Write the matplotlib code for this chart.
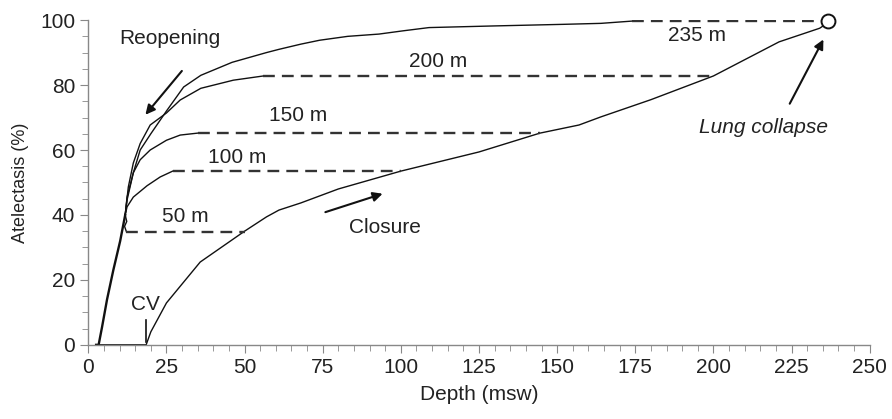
import matplotlib.pyplot as plt
from matplotlib.ticker import MultipleLocator

plt.rcParams['font.family'] = ['Liberation Sans', 'DejaVu Sans']

# Courbe de fermeture (compression)
closure_depth = [3, 18.5, 20, 25, 35.8, 50, 57, 61, 68, 80, 100, 125, 144.5, 157, 164, 180, 200, 221, 234, 236.3]
closure_atel = [0, 0, 4, 12.9, 25.5, 35, 39.4, 41.5, 43.7, 48, 53.5, 59.4, 65.2, 67.7, 70.2, 75.5, 82.8, 93.3, 97.5, 99]

# Descente commune des courbes de réouverture
common_depth = [11.8, 10.2, 8, 6, 4.4, 3.6, 3.3, 2.5]
common_atel = [40, 32, 23, 14, 5.5, 1.5, 0, 0]

# Réouverture depuis 235 m
r235_depth = [174, 164, 152, 129.5, 109, 100.7, 93, 83, 74, 68, 61, 57, 46, 36, 30.5, 25, 20, 16.6, 14.4, 12.4]
r235_atel = [99.7, 99, 98.7, 98.2, 97.7, 96.7, 95.7, 95, 93.8, 92.6, 91, 90, 87, 83, 79.4, 72, 65, 60, 53, 44.6]

# Réouverture depuis 200 m
r200_depth = [56, 46.4, 36, 29.4, 25, 19.8, 16.6, 14.4, 12.8]
r200_atel = [82.8, 81.5, 79, 75.4, 71.4, 67.7, 62, 56, 48.6]

# Réouverture depuis 150 m
r150_depth = [35, 29.4, 25, 19.8, 16.6, 14.4, 12.4]
r150_atel = [65.2, 64.6, 63, 60, 57, 53, 45.5]

# Réouverture depuis 100 m
r100_depth = [27, 23, 18.8, 14.4, 12.4]
r100_atel = [53.5, 51.7, 49, 45.5, 42.5]

# Réouverture depuis 50 m
r50_depth = [12.2, 11.6, 12.3, 11.8]
r50_atel = [34.8, 36.5, 38, 40]

# Plateaux en pointillés : (profondeur début, profondeur fin, atélectasie, étiquette, x texte, y texte)
plateaus = [
    (12.2, 50, 34.8, '50 m', 31, 39.4),
    (27, 100, 53.5, '100 m', 47.6, 57.8),
    (35, 144.5, 65.2, '150 m', 67, 70.5),
    (56, 200, 82.8, '200 m', 112, 87.4),
    (174, 236.6, 99.7, '235 m', 194.7, 95.4),
]

FS = 15

fig = plt.figure(figsize=(8.92, 4.19), dpi=100)
ax = fig.add_axes([0.099, 0.177, 0.876, 0.775])

ax.plot(closure_depth, closure_atel, color='#111111', lw=1.0)
ax.plot(common_depth, common_atel, color='#111111', lw=1.7)
for xs, ys in [(r235_depth, r235_atel), (r200_depth, r200_atel), (r150_depth, r150_atel),
               (r100_depth, r100_atel), (r50_depth, r50_atel)]:
    ax.plot(xs + [common_depth[0]], ys + [common_atel[0]], color='#111111', lw=1.0)

for x0, x1, y, lab, tx, ty in plateaus:
    ax.plot([x0, x1], [y, y], color='#333333', lw=1.7, linestyle=(0, (5, 3)))
    ax.text(tx, ty, lab, ha='center', va='center', fontsize=FS, color='#222222')

ax.plot([236.6], [99.7], marker='o', markersize=10, markerfacecolor='white',
        markeredgecolor='#111111', markeredgewidth=1.4, clip_on=False, zorder=5)

# Annotations
ax.text(26, 94.3, 'Reopening', ha='center', va='center', fontsize=FS, color='#222222')
ax.annotate('', xy=(17.7, 70.2), xytext=(30.5, 85),
            arrowprops=dict(arrowstyle='-|>', color='#111111', lw=1.5, mutation_scale=14))
ax.text(95, 36, 'Closure', ha='center', va='center', fontsize=FS, color='#222222')
ax.annotate('', xy=(95, 46.8), xytext=(75, 40.6),
            arrowprops=dict(arrowstyle='-|>', color='#111111', lw=1.5, mutation_scale=14))
ax.text(216, 66.8, 'Lung collapse', ha='center', va='center', fontsize=FS,
        style='italic', color='#222222')
ax.annotate('', xy=(235.6, 94.8), xytext=(224, 73.5),
            arrowprops=dict(arrowstyle='-|>', color='#111111', lw=1.5, mutation_scale=14))
ax.text(18.2, 12.3, 'CV', ha='center', va='center', fontsize=FS, color='#222222')
ax.plot([18.5, 18.5], [1, 7.7], color='#111111', lw=1.2)

ax.set_xlim(0, 250)
ax.set_ylim(0, 100)
ax.xaxis.set_major_locator(MultipleLocator(25))
ax.xaxis.set_minor_locator(MultipleLocator(5))
ax.yaxis.set_major_locator(MultipleLocator(20))
ax.yaxis.set_minor_locator(MultipleLocator(5))

for side in ['top', 'right']:
    ax.spines[side].set_visible(False)
for side in ['left', 'bottom']:
    ax.spines[side].set_color('#888888')
    ax.spines[side].set_linewidth(1.0)
ax.tick_params(which='major', length=6, color='#888888', labelsize=FS, labelcolor='#222222')
ax.tick_params(which='minor', length=4, color='#888888')

ax.set_xlabel('Depth (msw)', fontsize=FS, color='#222222', labelpad=6)
ax.set_ylabel('Atelectasis (%)', fontsize=13, color='#222222', labelpad=8)

fig.savefig('out.png', dpi=100)
